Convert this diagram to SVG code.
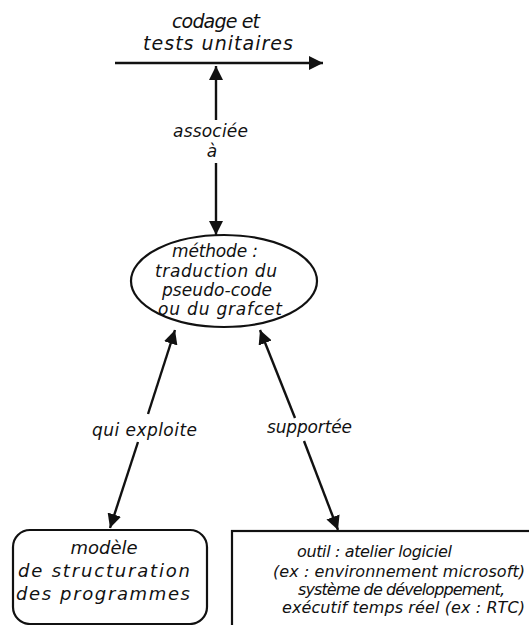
<svg xmlns="http://www.w3.org/2000/svg" width="529" height="625" viewBox="0 0 529 625">
  <style>
    text { font-family: "DejaVu Sans", "Liberation Sans", sans-serif; font-style: italic; fill: #111; }
    .t19 { font-size: 19px; }
    .t18 { font-size: 18px; }
    .t17 { font-size: 17px; }
    .t16 { font-size: 16px; }
    .mid { text-anchor: middle; }
    .edge { stroke: #111; stroke-width: 2.4; fill: none; }
    .node { stroke: #111; stroke-width: 2.2; fill: #fff; }
  </style>
  <defs>
    <marker id="arrow" markerUnits="userSpaceOnUse" markerWidth="16" markerHeight="14" refX="14" refY="7" orient="auto">
      <path d="M0,0 L14,7 L0,14 Z" fill="#111"/>
    </marker>
  </defs>

  <rect width="529" height="625" fill="#fff"/>

  <!-- top target: a line with arrow heading right -->
  <g id="codage">
    <text class="t19" x="172" y="28" textLength="88" lengthAdjust="spacing">codage et</text>
    <text class="t19" x="143" y="50" textLength="150" lengthAdjust="spacing">tests unitaires</text>
  </g>

  <g id="methode">
    <ellipse class="node" cx="224" cy="281" rx="93" ry="46"/>
    <text class="t17" x="172" y="257" textLength="86" lengthAdjust="spacing">méthode :</text>
    <text class="t17" x="155" y="277" textLength="122" lengthAdjust="spacing">traduction du</text>
    <text class="t17" x="162" y="296" textLength="110" lengthAdjust="spacing">pseudo-code</text>
    <text class="t17" x="158" y="315" textLength="124" lengthAdjust="spacing">ou du grafcet</text>
  </g>

  <g id="modele">
    <rect class="node" x="13" y="530" width="194" height="94" rx="17" ry="17"/>
    <text class="t18 mid" x="104" y="554">modèle</text>
    <text class="t18" x="18" y="577" textLength="172" lengthAdjust="spacing">de structuration</text>
    <text class="t18" x="16" y="600" textLength="174" lengthAdjust="spacing">des programmes</text>
  </g>

  <g id="outil">
    <rect class="node" x="232" y="531" width="320" height="110"/>
    <text class="t16" x="297" y="557" textLength="155" lengthAdjust="spacing">outil : atelier logiciel</text>
    <text class="t16" x="273" y="577" textLength="252" lengthAdjust="spacing">(ex : environnement microsoft)</text>
    <text class="t16" x="298" y="595" textLength="207" lengthAdjust="spacing">système de développement,</text>
    <text class="t16" x="282" y="613" textLength="243" lengthAdjust="spacing">exécutif temps réel (ex : RTC)</text>
  </g>

  <g id="connectors">
    <!-- horizontal line under the top target -->
    <line class="edge" x1="115" y1="63" x2="323" y2="63" marker-end="url(#arrow)"/>

    <!-- associée à -->
    <line class="edge" x1="216" y1="120" x2="216" y2="66" marker-end="url(#arrow)"/>
    <line class="edge" x1="216" y1="163" x2="216" y2="235" marker-end="url(#arrow)"/>
    <text class="t17" x="173" y="137" textLength="75" lengthAdjust="spacing">associée</text>
    <text class="t17 mid" x="212" y="157">à</text>

    <!-- qui exploite -->
    <line class="edge" x1="148" y1="414" x2="175" y2="330" marker-end="url(#arrow)"/>
    <line class="edge" x1="138" y1="442" x2="110" y2="528" marker-end="url(#arrow)"/>
    <text class="t17" x="92" y="436" textLength="105" lengthAdjust="spacing">qui exploite</text>

    <!-- supportée -->
    <line class="edge" x1="295" y1="418" x2="260" y2="330" marker-end="url(#arrow)"/>
    <line class="edge" x1="304" y1="441" x2="338" y2="530" marker-end="url(#arrow)"/>
    <text class="t17" x="267" y="433" textLength="85" lengthAdjust="spacing">supportée</text>
  </g>
</svg>
